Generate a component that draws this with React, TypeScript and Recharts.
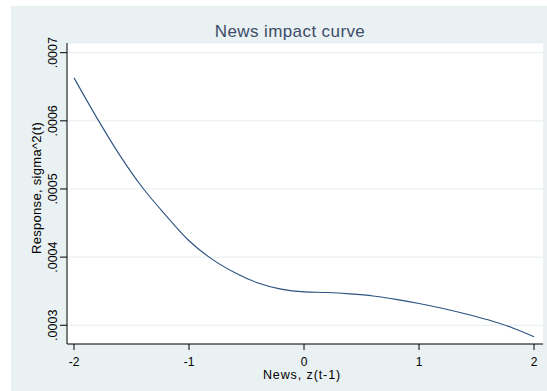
import { LineChart, Line, XAxis, YAxis, CartesianGrid } from 'recharts'

// news shock z(t-1) and the implied conditional variance
const newsZ = [-2, -1.8, -1.6, -1.4, -1.2, -1, -0.8, -0.6, -0.4, -0.2, 0, 0.2, 0.4, 0.6, 0.8, 1, 1.2, 1.4, 1.6, 1.8, 2]
const sigma2 = [
  0.000663, 0.000604, 0.000549, 0.000501, 0.000461, 0.000424, 0.000397, 0.000377, 0.000362, 0.000353,
  0.000349, 0.000348, 0.000346, 0.000343, 0.000338, 0.000332, 0.000325, 0.000317, 0.000308, 0.000297, 0.000283,
]

const xTicks = [-2, -1, 0, 1, 2]
const yTicks = [0.0003, 0.0004, 0.0005, 0.0006, 0.0007]
const yTickLabels = ['.0003', '.0004', '.0005', '.0006', '.0007']

const data = newsZ.map((z, i) => ({ z, s: sigma2[i] }))

const FONT = '"Liberation Sans", Arial, sans-serif'

const YTick = (props: any) => {
  const { x, y, payload } = props
  const idx = yTicks.findIndex((t) => Math.abs(t - payload.value) < 1e-9)
  return (
    <text
      x={x}
      y={y}
      transform={`rotate(-90, ${x}, ${y})`}
      textAnchor="middle"
      fontSize={12.5}
      fontFamily={FONT}
      fill="#000"
    >
      {idx >= 0 ? yTickLabels[idx] : payload.value}
    </text>
  )
}

export default function App() {
  return (
    <div style={{ position: 'absolute', left: 0, top: 0, width: 547, height: 391, background: '#fff' }}>
      <div style={{ position: 'absolute', left: 11, top: 6, width: 536, height: 385, background: '#e9f1f3' }}>
        <LineChart width={536} height={385} data={data} margin={{ top: 37, right: 4, bottom: 0, left: 0 }}>
          <CartesianGrid vertical={false} stroke="#e3edf0" fill="#fff" />
          <XAxis
            dataKey="z"
            type="number"
            domain={[-2.061, 2.078]}
            allowDataOverflow
            ticks={xTicks}
            height={47}
            tickSize={6}
            tickMargin={7}
            axisLine={{ stroke: '#000' }}
            tickLine={{ stroke: '#000' }}
            tick={{ fill: '#000', fontSize: 12, fontFamily: FONT }}
          />
          <YAxis
            type="number"
            domain={[0.0002725, 0.0007142]}
            allowDataOverflow
            ticks={yTicks}
            width={56}
            tickSize={7}
            tickMargin={3}
            axisLine={{ stroke: '#000' }}
            tickLine={{ stroke: '#000' }}
            tick={<YTick />}
          />
          <Line
            type="monotone"
            dataKey="s"
            stroke="#2a5280"
            strokeWidth={1.1}
            dot={false}
            isAnimationActive={false}
          />
        </LineChart>
      </div>
      <svg
        width={547}
        height={391}
        style={{ position: 'absolute', left: 0, top: 0, pointerEvents: 'none' }}
      >
        <text x={290} y={37} textAnchor="middle" fontSize={17} fontFamily={FONT} fill="#3d4b68" letterSpacing={0.4}>
          News impact curve
        </text>
        <text x={302} y={379} textAnchor="middle" fontSize={12.5} fontFamily={FONT} fill="#000" letterSpacing={0.9}>
          News, z(t-1)
        </text>
        <text
          x={41}
          y={188}
          transform="rotate(-90, 41, 188)"
          textAnchor="middle"
          fontSize={13}
          fontFamily={FONT}
          fill="#000"
          letterSpacing={0.3}
        >
          Response, sigma^2(t)
        </text>
      </svg>
    </div>
  )
}
